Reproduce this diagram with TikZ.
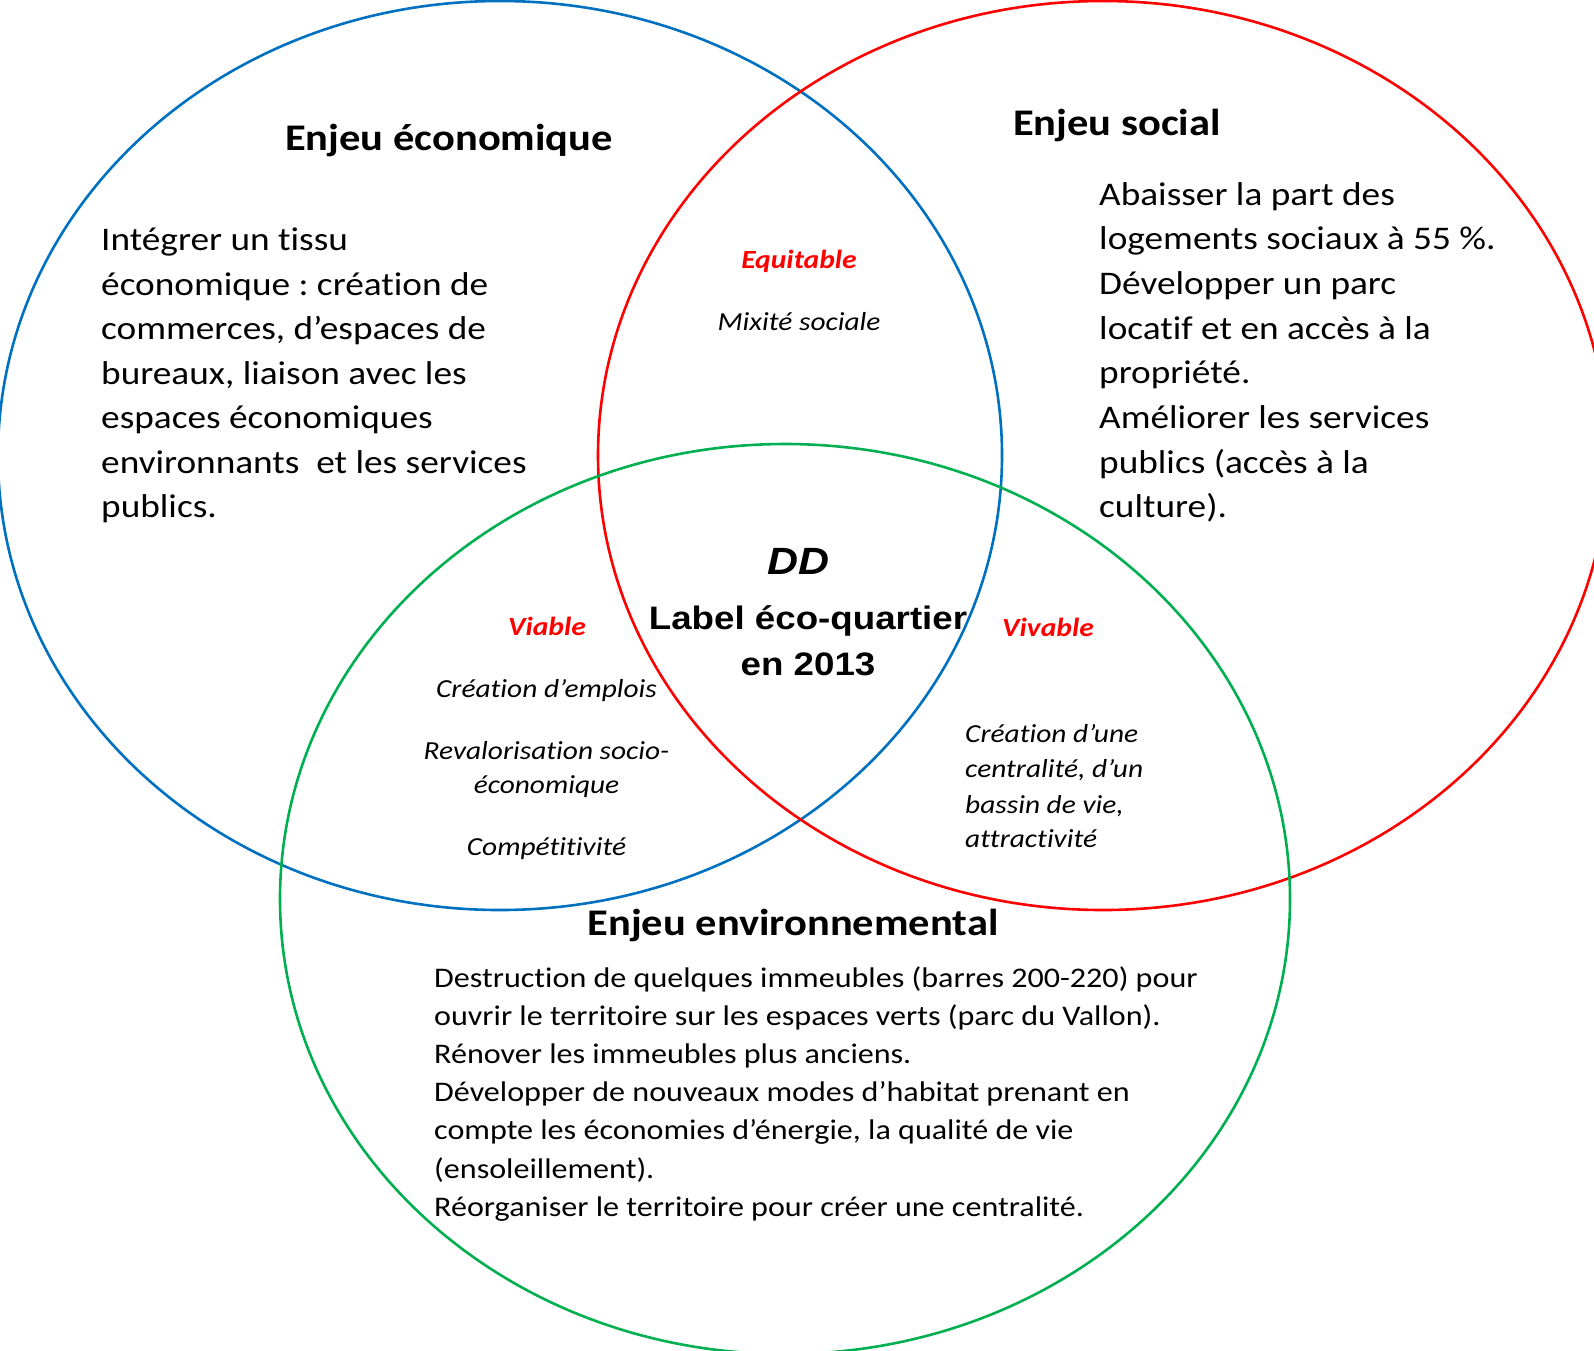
\documentclass[tikz,border=0pt]{standalone}
\usepackage{fontspec}
\setmainfont{Carlito}[FakeStretch=1.13,Ligatures=NoCommon]
\newfontfamily\arialf{Liberation Sans}[FakeStretch=1.13]
\definecolor{ecoblue}{HTML}{0070C0}
\definecolor{socred}{HTML}{FF0000}
\definecolor{envgreen}{HTML}{00B050}
\frenchspacing
\begin{document}
\begin{tikzpicture}[x=1pt,y=-1pt,
  ring/.style={line width=2.6pt},
  titletxt/.style={inner sep=0pt, anchor=base, font=\fontsize{37.6}{45}\selectfont\bfseries},
  bodytxt/.style={inner sep=0pt, anchor=base west, font=\fontsize{33}{40}\selectfont},
  envtxt/.style={inner sep=0pt, anchor=base west, font=\fontsize{28.4}{34}\selectfont},
  keyword/.style={inner sep=0pt, anchor=base, text=socred, font=\fontsize{26.2}{31}\selectfont\bfseries\itshape},
  itxt/.style={inner sep=0pt, anchor=base, font=\fontsize{26}{31}\selectfont\itshape},
  itxtl/.style={inner sep=0pt, anchor=base west, font=\fontsize{26}{31}\selectfont\itshape},
  centertxt/.style={inner sep=0pt, anchor=base, font=\arialf\fontsize{32.5}{39}\selectfont\bfseries}
]
\useasboundingbox (0,0) rectangle (1594,1350);
\begin{scope}
  \clip (0,0) rectangle (1594,1350);
  \draw[ring, ecoblue] (500,455.5) ellipse [x radius=502pt, y radius=454.5pt];
  \draw[ring, socred] (1103,455.5) ellipse [x radius=505pt, y radius=454.5pt];
  \draw[ring, envgreen] (785,899) ellipse [x radius=505pt, y radius=455pt];
\end{scope}

% titles
\node[titletxt] (teco) at (449,150) {Enjeu économique};
\node[titletxt] (tsoc) at (1117,135) {Enjeu social};
\node[titletxt] (tenv) at (793,935) {Enjeu environnemental};

% economic text
\foreach \t [count=\i] in {Intégrer un tissu, économique : création de, {commerces, d’espaces de}, {bureaux, liaison avec les}, espaces économiques, environnants\ \ et les services, publics.}
  \node[bodytxt] (eco\i) at (101,{250.7+44.5*(\i-1)}) {\t};

% social text
\foreach \t [count=\i] in {Abaisser la part des, logements sociaux à 55 \%., Développer un parc, locatif et en accès à la, propriété., Améliorer les services, publics (accès à la, culture).}
  \node[bodytxt] (soc\i) at (1099,{205+44.7*(\i-1)}) {\t};

% environmental text
\foreach \t [count=\i] in {Destruction de quelques immeubles (barres 200-220) pour, ouvrir le territoire sur les espaces verts (parc du Vallon)., Rénover les immeubles plus anciens., Développer de nouveaux modes d’habitat prenant en, {compte les économies d’énergie, la qualité de vie}, (ensoleillement)., Réorganiser le territoire pour créer une centralité.}
  \node[envtxt] (env\i) at (434,{987+38.2*(\i-1)}) {\t};

% intersections
\node[keyword] (equit) at (799,268) {Equitable};
\node[itxt] (mixite) at (799,330) {Mixité sociale};

\node[keyword] (viable) at (547,635) {Viable};
\node[itxt] (emplois) at (546.5,697) {Création d’emplois};
\node[itxt] (revalo) at (546.5,759) {Revalorisation socio-};
\node[itxt] (econo) at (546.5,793) {économique};
\node[itxt] (compet) at (546.5,855) {Compétitivité};

\node[keyword] (vivable) at (1048,636) {Vivable};
\node[itxtl] (viv1) at (965,742) {Création d’une};
\node[itxtl] (viv2) at (965,777) {centralité, d’un};
\node[itxtl] (viv3) at (965,813) {bassin de vie,};
\node[itxtl] (viv4) at (965,847) {attractivité};

% centre
\node[inner sep=0pt, anchor=base, font=\arialf\fontsize{38}{45}\selectfont\bfseries\itshape] (dd) at (798.5,574) {DD};
\node[centertxt] (label1) at (808,629) {Label éco-quartier};
\node[centertxt] (label2) at (808,675) {en 2013};
\end{tikzpicture}
\end{document}
